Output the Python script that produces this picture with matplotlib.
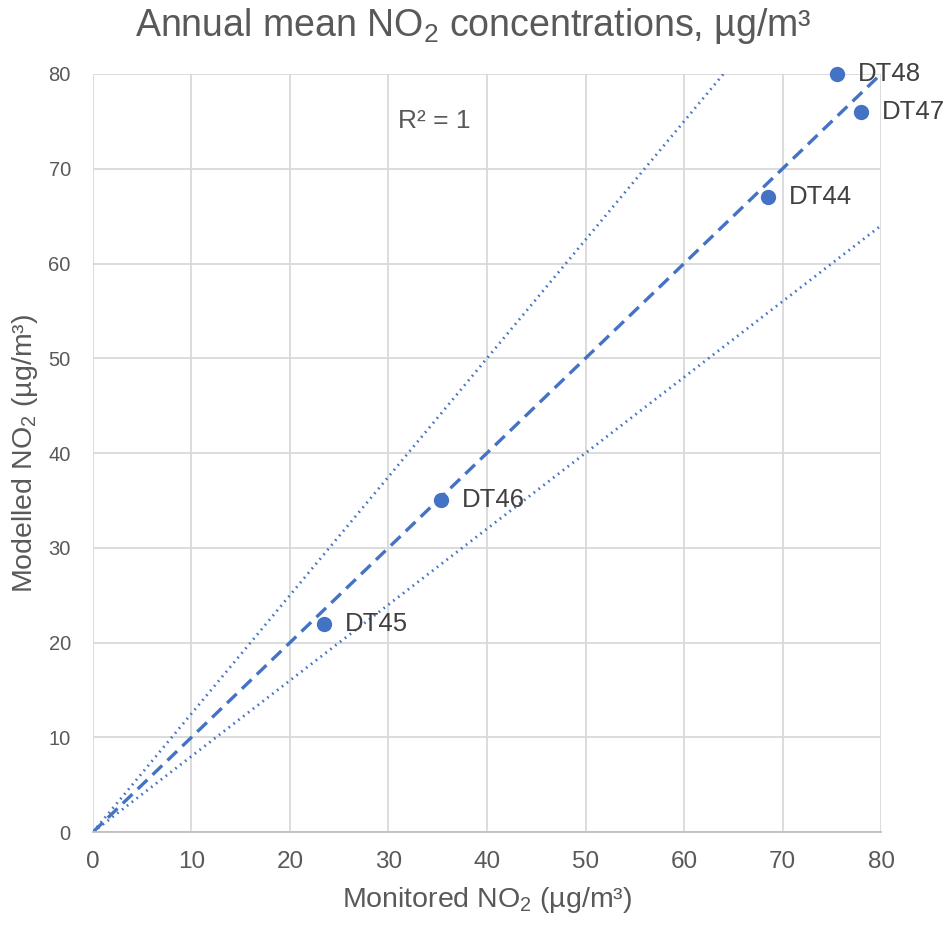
import numpy as np
import matplotlib
matplotlib.use("Agg")
import matplotlib.pyplot as plt

# monitored vs modelled NO2 at each diffusion tube
sites = ["DT48", "DT47", "DT44", "DT46", "DT45"]
monitored = [75.5, 78.0, 68.5, 35.3, 23.5]
modelled = [80, 76, 67, 35, 22]

ticks = [0, 10, 20, 30, 40, 50, 60, 70, 80]
ratio_lines = [1.25, 0.8]  # +/-25% bands around 1:1

plt.rcParams['font.family'] = ['Liberation Sans', 'DejaVu Sans']
plt.rcParams['mathtext.fontset'] = 'custom'
plt.rcParams['mathtext.rm'] = 'Liberation Sans'
plt.rcParams['mathtext.it'] = 'Liberation Sans'

blue = '#4472C4'
grey_txt = '#595959'

fig = plt.figure(figsize=(9.46, 9.25), dpi=100)
ax = fig.add_axes([0.0983, 0.1005, 0.833, 0.8195])

x = np.array([0, 80])
ax.plot(x, x, color=blue, lw=2.4, ls=(0, (4, 2.2)))
for r in ratio_lines:
    ax.plot(x, r * x, color=blue, lw=2.0, ls=(0, (0.6, 1.6)))

ax.plot(monitored, modelled, 'o', color=blue, ms=10, clip_on=False, zorder=5)
for s, mx, my in zip(sites, monitored, modelled):
    ax.annotate(s, (mx, my), xytext=(15, 0), textcoords='offset points',
                va='center', ha='left', fontsize=18.5, color='#404040',
                annotation_clip=False)

ax.text(31, 75, 'R² = 1', fontsize=19, color=grey_txt, va='center', ha='left')

ax.set_xlim(0, 80)
ax.set_ylim(0, 80)
ax.set_xticks(ticks)
ax.set_yticks(ticks)
ax.tick_params(axis='x', labelsize=17.5, colors=grey_txt, length=0, pad=14)
ax.tick_params(axis='y', labelsize=14.5, colors=grey_txt, length=0, pad=16)
ax.grid(True, color='#d9d9d9', lw=1.3)
ax.set_axisbelow(True)
for side in ['top', 'right', 'left']:
    ax.spines[side].set_visible(False)
ax.spines['bottom'].set_color('#bfbfbf')
ax.spines['bottom'].set_linewidth(1.3)

ax.set_xlabel('Monitored NO$_2$ (µg/m³)', fontsize=20.5, color=grey_txt, labelpad=8)
ax.set_ylabel('Modelled NO$_2$ (µg/m³)', fontsize=20.5, color=grey_txt, labelpad=6)
fig.suptitle('Annual mean NO$_2$ concentrations, µg/m³', fontsize=27, color=grey_txt, y=0.993)

fig.savefig('out.png', dpi=100)
